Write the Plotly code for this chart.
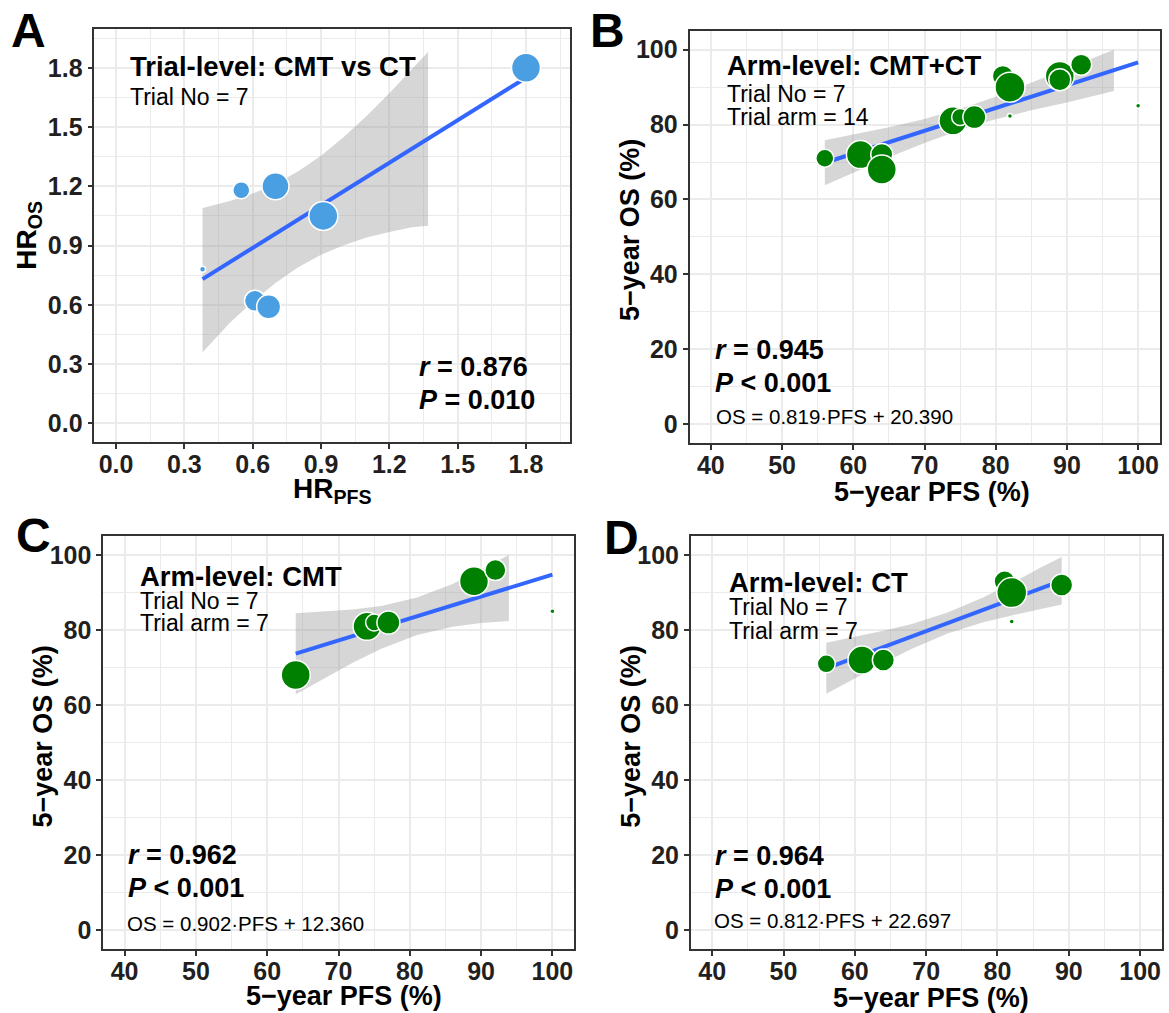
import plotly.graph_objects as go

W, H = 1169, 1013

# ---------------- data ----------------
# Panel A: trial-level hazard ratios
a_hr_pfs = [0.38, 0.55, 0.61, 0.67, 0.70, 0.91, 1.80]
a_hr_os = [0.78, 1.18, 0.62, 0.59, 1.20, 1.05, 1.80]
a_size = [6, 17, 21, 24, 27, 29, 29]
a_fit_x = [0.38, 1.80]
a_fit_y = [0.73, 1.75]
a_band_x = [0.38, 0.50, 0.60, 0.70, 0.80, 0.90, 1.00, 1.10, 1.20, 1.30, 1.37]
a_band_hi = [1.09, 1.125, 1.163, 1.212, 1.276, 1.355, 1.450, 1.556, 1.671, 1.791, 1.88]
a_band_lo = [0.36, 0.509, 0.615, 0.710, 0.790, 0.853, 0.902, 0.940, 0.969, 0.993, 1.00]

# Arm-level: CMT arms
cmt_pfs = [64, 74, 75, 77, 89, 92, 100]
cmt_os = [68, 81, 82, 82, 93, 96, 85]
cmt_size = [29, 28, 17, 23, 29, 21, 5]
# Arm-level: CT arms
ct_pfs = [56, 61, 64, 81, 82, 82, 89]
ct_os = [71, 72, 72, 93, 90, 82.3, 92]
ct_size = [18, 28, 22, 21, 30, 5, 22]

# Panel B fit (CMT+CT)
b_fit_x = [56, 100]
b_fit_y = [69.8, 96.6]
b_band_x = [56, 60, 65, 70, 76, 80, 85, 90, 96.6]
b_band_hi = [75.8, 77.3, 79.3, 81.5, 84.8, 87.4, 91.2, 95.2, 100.0]
b_band_lo = [63.8, 67.1, 71.3, 75.1, 79.2, 81.4, 83.8, 85.9, 89.0]

# Panel C fit (CMT)
c_fit_x = [64, 100]
c_fit_y = [73.7, 94.8]
c_band_x = [64, 68, 72, 76, 81, 86, 90, 93.9]
c_band_hi = [84.5, 84.9, 85.5, 86.4, 88.7, 92.3, 96.1, 100.0]
c_band_lo = [62.9, 67.1, 71.3, 75.0, 78.7, 80.9, 81.9, 82.4]

# Panel D fit (CT)
d_fit_x = [56, 89]
d_fit_y = [69.8, 93.2]
d_band_x = [56, 60, 64, 68, 73, 78, 82, 86, 89]
d_band_hi = [76.6, 78.1, 79.8, 81.6, 84.7, 88.7, 92.5, 96.6, 99.5]
d_band_lo = [63.0, 67.1, 71.2, 75.0, 79.1, 82.1, 83.9, 85.6, 86.8]

# texts
panel_letters = ["A", "B", "C", "D"]
panel_titles = ["Trial-level: CMT vs CT", "Arm-level: CMT+CT", "Arm-level: CMT", "Arm-level: CT"]
trial_no = ["Trial No = 7", "Trial No = 7", "Trial No = 7", "Trial No = 7"]
trial_arm = [None, "Trial arm = 14", "Trial arm = 7", "Trial arm = 7"]
r_text = ["0.876", "0.945", "0.962", "0.964"]
p_text = ["= 0.010", "< 0.001", "< 0.001", "< 0.001"]
eq_text = [None, "OS = 0.819·PFS + 20.390", "OS = 0.902·PFS + 12.360", "OS = 0.812·PFS + 22.697"]

# ---------------- figure ----------------
FONT = "Liberation Sans, Arial, sans-serif"
BLUE_PT = "#4A9FE2"
GREEN = "#008000"
LINE = "#3366FF"
BAND = "rgba(153,153,153,0.4)"

fig = go.Figure()

def add_panel(ax, px, py, sizes, color, fx, fy, bx, bhi, blo, order=None):
    xa, ya = ("x" if ax == 1 else f"x{ax}"), ("y" if ax == 1 else f"y{ax}")
    fig.add_trace(go.Scatter(x=bx + bx[::-1], y=bhi + blo[::-1], fill="toself",
                             fillcolor=BAND, line=dict(width=0), mode="lines",
                             hoverinfo="skip", showlegend=False, xaxis=xa, yaxis=ya))
    fig.add_trace(go.Scatter(x=fx, y=fy, mode="lines", line=dict(color=LINE, width=4),
                             showlegend=False, xaxis=xa, yaxis=ya))
    if order is not None:
        px = [px[i] for i in order]
        py = [py[i] for i in order]
        sizes = [sizes[i] for i in order]
    fig.add_trace(go.Scatter(x=px, y=py, mode="markers",
                             marker=dict(size=sizes, color=color, opacity=1,
                                         line=dict(color="white", width=1.5)),
                             showlegend=False, xaxis=xa, yaxis=ya))

add_panel(1, a_hr_pfs, a_hr_os, a_size, BLUE_PT, a_fit_x, a_fit_y, a_band_x, a_band_hi, a_band_lo)
b_pfs = ct_pfs + cmt_pfs
b_os = ct_os + cmt_os
b_size = ct_size + cmt_size
b_order = [0, 1, 2, 7, 3, 4, 5, 8, 9, 10, 11, 13, 6, 12]
add_panel(2, b_pfs, b_os, b_size, GREEN, b_fit_x, b_fit_y, b_band_x, b_band_hi, b_band_lo, b_order)
add_panel(3, cmt_pfs, cmt_os, cmt_size, GREEN, c_fit_x, c_fit_y, c_band_x, c_band_hi, c_band_lo)
add_panel(4, ct_pfs, ct_os, ct_size, GREEN, d_fit_x, d_fit_y, d_band_x, d_band_hi, d_band_lo)

# panel pixel boxes: left, right, top, bottom
boxes = {
    1: (94.4, 570.4, 29.3, 442.0),
    2: (689.5, 1159.5, 31.0, 442.7),
    3: (103.2, 573.8, 536.3, 948.8),
    4: (690.8, 1161.5, 536.3, 948.8),
}

tickfont = dict(family=FONT, size=25, color="#231F20", weight="bold")

def axis_common(rng, dtick, minor_dtick, fmt, standoff):
    return dict(range=rng, dtick=dtick, tick0=0, tickformat=fmt,
                showgrid=True, gridcolor="#EBEBEB", gridwidth=2,
                minor=dict(dtick=minor_dtick, tick0=0, showgrid=True, gridcolor="#EBEBEB", gridwidth=1.3),
                zeroline=False, showline=True, mirror=True, linecolor="#333333", linewidth=1.6,
                ticks="outside", ticklen=5, tickwidth=1.6, tickcolor="#333333",
                ticklabelstandoff=standoff,
                tickfont=tickfont, fixedrange=True)

layout = {}
for k, (l, r, t, b) in boxes.items():
    xs = "xaxis" if k == 1 else f"xaxis{k}"
    ys = "yaxis" if k == 1 else f"yaxis{k}"
    if k == 1:
        xa = axis_common([-0.095, 1.995], 0.3, 0.15, ".1f", -6)
        ya = axis_common([-0.095, 1.995], 0.3, 0.15, ".1f", 0)
    else:
        xa = axis_common([37, 103], 10, 5, "d", -6)
        ya = axis_common([-5, 105], 20, 10, "d", 0)
    xa["domain"] = [l / W, r / W]
    ya["domain"] = [1 - b / H, 1 - t / H]
    xa["anchor"] = "y" if k == 1 else f"y{k}"
    ya["anchor"] = "x" if k == 1 else f"x{k}"
    layout[xs] = xa
    layout[ys] = ya

fig.update_layout(**layout)

ann = []
def A(x, y, text, size, xanchor="left", bold=False, angle=0, color="black"):
    if bold:
        text = f"<b>{text}</b>"
    ann.append(dict(x=x / W, y=1 - y / H, xref="paper", yref="paper", text=text,
                    showarrow=False, xanchor=xanchor, yanchor="middle", textangle=angle,
                    font=dict(family=FONT, size=size, color=color)))

# panel letters
letter_pos = [(28.5, 31), (607, 31), (33, 535), (621, 537.5)]
for t, (x, y) in zip(panel_letters, letter_pos):
    A(x, y, t, 48, xanchor="center", bold=True)

# inner texts
title_pos = [(127.8, 66), (724.6, 65.3), (137.8, 576), (726.5, 582.7)]
no_pos = [96.7, 94, 600.7, 607.3]
arm_pos = [None, 117.3, 623.3, 630.7]
r_pos = [(416.7, 366.7), (713.4, 350), (125.9, 855), (713.4, 856)]
p_pos = [400, 382.7, 888.3, 889.3]
eq_pos = [None, (714.1, 416.7), (125.2, 923.3), (711.5, 920.7)]
for i in range(4):
    x0, y0 = title_pos[i]
    A(x0, y0, panel_titles[i], 27.5, bold=True)
    A(x0, no_pos[i], trial_no[i], 23)
    if trial_arm[i]:
        A(x0, arm_pos[i], trial_arm[i], 23)
    rx, ry = r_pos[i]
    A(rx, ry, f"<i>r</i> = {r_text[i]}", 27, bold=True)
    A(rx, p_pos[i], f"<i>P</i> {p_text[i]}", 27, bold=True)
    if eq_text[i]:
        ex, ey = eq_pos[i]
        A(ex, ey, eq_text[i], 20.5)

# axis titles
A(332.4, 490, "HR<sub>PFS</sub>", 28, xanchor="center", bold=True)
A(28.7, 235, "HR<sub>OS</sub>", 28, xanchor="center", bold=True, angle=-90)
for (x, y) in [(932, 492), (343.5, 996), (931, 998)]:
    A(x, y, "5−year PFS (%)", 27, xanchor="center", bold=True)
for (x, y) in [(630, 230), (42.6, 737), (630.7, 737)]:
    A(x, y, "5−year OS (%)", 27, xanchor="center", bold=True, angle=-90)

fig.update_layout(annotations=ann, width=W, height=H,
                  margin=dict(l=0, r=0, t=0, b=0),
                  paper_bgcolor="white", plot_bgcolor="white",
                  showlegend=False, font=dict(family=FONT))

fig.write_html("out.html")
